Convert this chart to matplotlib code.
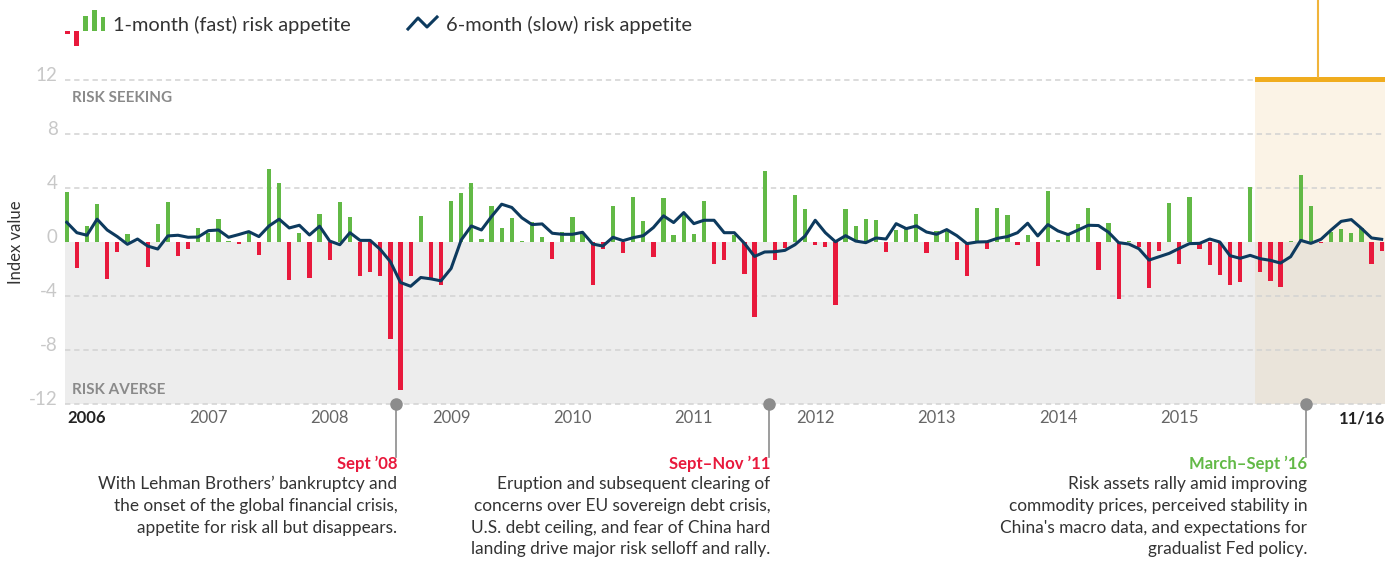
import numpy as np
import matplotlib
matplotlib.use('Agg')
import matplotlib.pyplot as plt
from matplotlib.transforms import blended_transform_factory
from matplotlib.patches import Rectangle

plt.rcParams['font.family'] = ['Lato', 'DejaVu Sans']

###: Data (monthly, Jan 2006 - Nov 2016)
fast = [3.72, -1.91, 1.19, 2.83, -2.73, -0.72, 0.60, 0.0, -1.84, 1.34, 2.98, -1.02,
        -0.50, 1.04, 0.69, 1.71, 0.07, -0.12, 0.65, -0.94, 5.43, 4.39, -2.80, 0.67,
        -2.66, 2.08, -1.32, 2.98, 1.86, -2.51, -2.21, -2.51, -7.20, -10.99, -2.51, 1.94,
        -2.73, -3.15, 3.05, 3.65, 4.39, 0.22, 2.68, 1.04, 1.79, 0.07, 1.49, 0.37,
        -1.24, 0.74, 1.86, 0.60, -3.18, -0.50, 2.68, -0.79, 3.35, 1.56, -1.09, 3.28,
        0.52, 2.01, 0.60, 3.05, -1.61, -1.32, 0.52, -2.36, -5.56, 5.29, -1.32, -0.42,
        3.50, 2.46, -0.20, -0.35, -4.67, 2.46, 1.19, 1.71, 1.64, -0.72, 0.89, 1.04,
        2.08, -0.79, 0.82, 0.89, -1.32, -2.51, 2.53, -0.50, 2.53, 2.01, -0.20, 0.52,
        -1.76, 3.80, 0.15, 0.52, 1.34, 2.53, -2.06, 1.41, -4.21, 0.07, -0.40, -3.39,
        -0.64, 2.90, -1.61, 3.34, -0.50, -1.68, -2.43, -3.17, -2.95, 4.08, -2.20, -2.87,
        -3.32, 0.07, 4.98, 2.67, -0.05, 0.74, 0.97, 0.67, 1.04, -1.61, -0.64]

slow = [1.46, 0.69, 0.50, 1.69, 0.89, 0.40, -0.17, 0.22, -0.30, -0.52, 0.45, 0.50,
        0.35, 0.37, 0.84, 0.89, 0.35, 0.55, 0.77, 0.40, 1.19, 1.69, 1.04, 1.24,
        0.52, 1.17, 0.07, -0.20, 0.69, 0.12, 0.12, -0.55, -1.46, -3.00, -3.28, -2.63,
        -2.73, -2.88, -1.96, 0.15, 1.19, 0.89, 1.89, 2.80, 2.56, 1.79, 1.29, 1.34,
        0.65, 0.57, 0.57, 0.72, -0.15, -0.30, 0.35, 0.10, 0.32, 0.47, 1.07, 1.94,
        1.44, 2.18, 1.36, 1.61, 1.61, 0.69, 0.69, -0.10, -1.07, -0.74, -0.72, -0.62,
        -0.20, 0.45, 1.61, 0.69, 0.02, 0.47, 0.07, -0.05, 0.30, 0.22, 1.36, 0.99,
        1.19, 0.74, 0.57, 0.92, 0.47, -0.12, 0.00, 0.02, 0.27, 0.40, 0.69, 1.39,
        0.45, 1.29, 0.82, 0.55, 0.89, 1.24, 1.22, 0.72, -0.05, -0.15, -0.50, -1.34,
        -1.09, -0.84, -0.47, -0.12, -0.10, 0.22, 0.00, -1.01, -1.21, -0.99, -1.24, -1.36,
        -1.56, -1.09, 0.12, -0.10, 0.20, 0.89, 1.53, 1.66, 1.01, 0.30, 0.20]

year_labels = ['2006', '2007', '2008', '2009', '2010', '2011', '2012', '2013', '2014', '2015']
last_label = '11/16'
y_ticks = [12, 8, 4, 0, -4, -8, -12]

events = [
    (32.55, "Sept \u201908", '#E8193C',
     ["With Lehman Brothers\u2019 bankruptcy and",
      "the onset of the global financial crisis,",
      "appetite for risk all but disappears."]),
    (69.4, "Sept\u2013Nov \u201911", '#E8193C',
     ["Eruption and subsequent clearing of",
      "concerns over EU sovereign debt crisis,",
      "U.S. debt ceiling, and fear of China hard",
      "landing drive major risk selloff and rally."]),
    (122.5, "March\u2013Sept \u201916", '#62B946',
     ["Risk assets rally amid improving",
      "commodity prices, perceived stability in",
      "China's macro data, and expectations for",
      "gradualist Fed policy."]),
]

GREEN = '#62B946'
RED = '#E8193C'
NAVY = '#0D3A5E'

W, H = 1395, 577
fig = plt.figure(figsize=(W / 100, H / 100), dpi=100)

def fx(px):
    return px / W

def fy(py):
    return 1 - py / H

# axes: x from pixel 65 to 1385, y 76..408 -> ylim -12.3..12.3
ax = fig.add_axes([fx(65), fy(408), fx(1385) - fx(65), fy(76) - fy(408)])
ax.set_xlim(-0.17, 130.33)
ax.set_ylim(-12.3, 12.3)
ax.axis('off')

x = np.arange(len(fast))
fast = np.array(fast)
hl_start = 117.5

###: Background areas
ax.fill_between([-0.17, hl_start], -12, 0, color='#EDEDED', lw=0, zorder=0)
ax.fill_between([hl_start, 130.33], 0, 11.85, color='#FBF3E6', lw=0, zorder=0)
ax.fill_between([hl_start, 130.33], -12, 0, color='#EAE4DA', lw=0, zorder=0)
ax.add_patch(Rectangle((hl_start, 11.85), 130.33 - hl_start, 0.37, color='#F0AC1E',
                       lw=0, zorder=3, clip_on=False))
ax.plot([123.7, 123.7], [12.2, 18.2], color='#F0B43A', lw=1.5, clip_on=False, zorder=3)

for t in y_ticks:
    if t != 0:
        ax.plot([-0.17, 130.33], [t, t], color='#D2D2D2', lw=1.1,
                ls=(0, (3.5, 2.5)), zorder=1, clip_on=False)
    ax.text(-0.9, t + 0.35, str(t), ha='right', va='center', fontsize=13.5,
            color='#C8C8C8')

###: Bars and line
colors = [GREEN if v >= 0 else RED for v in fast]
ax.bar(x, fast, width=0.42, color=colors, zorder=2)
ax.plot(x, slow, color=NAVY, lw=2.2, zorder=4, solid_joinstyle='round')

ax.text(0.5, 10.7, 'RISK SEEKING', fontsize=11, fontweight='bold',
        color='#8A8A8A', va='center')
ax.text(0.5, -11.0, 'RISK AVERSE', fontsize=11, fontweight='bold',
        color='#8A8A8A', va='center')

fig.text(fx(16), fy(242), 'Index value', rotation=90, ha='center', va='center',
         fontsize=12, color='#333333')

###: Year labels
tr = blended_transform_factory(ax.transData, fig.transFigure)
for k, lab in enumerate(year_labels):
    bold = k == 0
    ax.text(12 * k + 0.1, fy(418), lab, transform=tr, ha='left', va='center',
            fontsize=12, fontweight='bold' if bold else 'normal',
            color='#222222' if bold else '#666666')
ax.text(130.3, fy(418), last_label, transform=tr, ha='right', va='center',
        fontsize=12, fontweight='bold', color='#222222')

###: Event markers and annotations
for ex, title, tcol, lines in events:
    ax.plot([ex], [-12], 'o', color='#8C8C8C', ms=8, clip_on=False, zorder=5)
    ax.plot([ex, ex], [-12, -15.9], color='#8C8C8C', lw=1.2, clip_on=False, zorder=5)
    ax.text(ex + 0.15, fy(464), title, transform=tr, ha='right', va='center',
            fontsize=12, fontweight='bold', color=tcol)
    for j, line in enumerate(lines):
        ax.text(ex + 0.15, fy(484 + 21.8 * j), line, transform=tr, ha='right',
                va='center', fontsize=12.4, color='#333333')

###: Legend
lax = fig.add_axes([0, 0, 1, 1])
lax.set_xlim(0, W)
lax.set_ylim(H, 0)
lax.axis('off')
lax.add_patch(Rectangle((65, 31), 4.5, 3, color=RED, lw=0))
lax.add_patch(Rectangle((74, 31), 4.5, 15, color=RED, lw=0))
lax.add_patch(Rectangle((83, 16), 4.5, 15, color=GREEN, lw=0))
lax.add_patch(Rectangle((92, 10), 4.5, 21, color=GREEN, lw=0))
lax.add_patch(Rectangle((100.5, 17), 4.5, 14, color=GREEN, lw=0))
lax.text(113, 25, '1-month (fast) risk appetite', fontsize=14.4, color='#333333',
         va='center')
lax.plot([408, 418, 427, 437], [29, 18, 27, 17], color=NAVY, lw=2.2)
lax.text(446, 25, '6-month (slow) risk appetite', fontsize=14.4, color='#333333',
         va='center')

plt.savefig('out.png', dpi=100)
